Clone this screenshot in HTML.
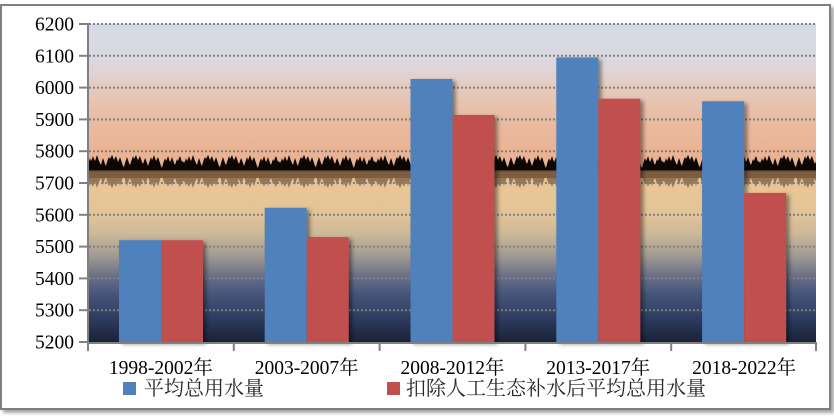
<!DOCTYPE html>
<html><head><meta charset="utf-8"><style>
html,body{margin:0;padding:0;background:#fff;}
body{width:834px;height:416px;overflow:hidden;position:relative;}
.frame{position:absolute;left:0;top:4px;width:827px;height:402px;border:2px solid #808080;box-shadow:3px 3px 3px rgba(0,0,0,0.35);background:#fff;}
svg{position:absolute;left:0;top:0;}
</style></head><body>
<div class="frame"></div>
<svg width="834" height="416" viewBox="0 0 834 416" xmlns="http://www.w3.org/2000/svg">
<defs>
<linearGradient id="bg" x1="0" y1="24" x2="0" y2="342" gradientUnits="userSpaceOnUse">
<stop offset="0" stop-color="#d6dae4"/>
<stop offset="0.097" stop-color="#dad9e2"/>
<stop offset="0.15" stop-color="#e0d4d6"/>
<stop offset="0.20" stop-color="#e5cabd"/>
<stop offset="0.30" stop-color="#e9bca2"/>
<stop offset="0.40" stop-color="#ebb393"/>
<stop offset="0.46" stop-color="#eab291"/>
<stop offset="0.47" stop-color="#e6bf8e"/>
<stop offset="0.52" stop-color="#e8c696"/>
<stop offset="0.60" stop-color="#e2c497"/>
<stop offset="0.66" stop-color="#cdb898"/>
<stop offset="0.73" stop-color="#a09a92"/>
<stop offset="0.79" stop-color="#6c7188"/>
<stop offset="0.85" stop-color="#45557a"/>
<stop offset="0.93" stop-color="#2c3a5c"/>
<stop offset="1" stop-color="#1a2238"/>
</linearGradient>
<pattern id="trees" x="88" y="154" width="96" height="17" patternUnits="userSpaceOnUse">
<path d="M0,17 L0,9 L1,7 L2,4 L3,7 L4,5 L5,2 L6,5 L7,7 L8,4 L9,1 L10,4 L11,7 L12,9 L13,11 L14,7 L15,4 L16,7 L17,10 L18,12 L19,8 L20,5 L21,3 L22,5 L23,3 L24,1 L25,3 L26,6 L27,4 L28,2 L29,5 L30,8 L31,6 L32,3 L33,6 L34,9 L35,12 L36,13 L37,9 L38,6 L39,3 L40,6 L41,9 L42,11 L43,8 L44,5 L45,2 L46,5 L47,3 L48,1 L49,4 L50,6 L51,4 L52,2 L53,5 L54,8 L55,10 L56,7 L57,4 L58,6 L59,9 L60,12 L61,9 L62,6 L63,3 L64,6 L65,4 L66,1 L67,4 L68,7 L69,5 L70,3 L71,6 L72,9 L73,12 L74,14 L75,10 L76,7 L77,4 L78,7 L79,5 L80,2 L81,5 L82,8 L83,6 L84,3 L85,6 L86,9 L87,11 L88,8 L89,5 L90,7 L91,4 L92,2 L93,5 L94,8 L95,7 L96,9 L96,17 Z" fill="#0a0705"/>
</pattern>
<pattern id="refl" x="88" y="171" width="96" height="18" patternUnits="userSpaceOnUse">
<path d="M0,0 L0,10 L1,12 L2,15 L3,12 L4,14 L5,16 L6,13 L7,11 L8,14 L9,17 L10,14 L11,11 L12,9 L13,7 L14,11 L15,14 L16,11 L17,8 L18,6 L19,10 L20,13 L21,15 L22,13 L23,15 L24,17 L25,15 L26,12 L27,14 L28,16 L29,13 L30,10 L31,12 L32,15 L33,12 L34,9 L35,6 L36,5 L37,9 L38,12 L39,15 L40,12 L41,9 L42,7 L43,10 L44,13 L45,16 L46,13 L47,15 L48,17 L49,14 L50,12 L51,14 L52,16 L53,13 L54,10 L55,8 L56,11 L57,14 L58,12 L59,9 L60,6 L61,9 L62,12 L63,15 L64,12 L65,14 L66,17 L67,14 L68,11 L69,13 L70,15 L71,12 L72,9 L73,6 L74,4 L75,8 L76,11 L77,14 L78,11 L79,13 L80,16 L81,13 L82,10 L83,12 L84,15 L85,12 L86,9 L87,7 L88,10 L89,13 L90,11 L91,14 L92,16 L93,13 L94,10 L95,11 L96,10 L96,0 Z" fill="#7a5a3e" fill-opacity="0.75"/>
</pattern>
<filter id="sh" x="-20%" y="-10%" width="150%" height="130%">
<feDropShadow dx="3" dy="2" stdDeviation="2" flood-color="#000" flood-opacity="0.45"/>
</filter>
</defs>
<!-- plot background -->
<rect x="89" y="24" width="727" height="318" fill="url(#bg)"/>
<rect x="89" y="154" width="727" height="17" fill="url(#trees)"/>
<rect x="89" y="170" width="727" height="2" fill="#4a3424"/>
<rect x="89" y="172" width="727" height="6" fill="#7e5e40" fill-opacity="0.9"/>
<rect x="89" y="171" width="727" height="18" fill="url(#refl)"/>
<!-- gridlines -->
<g stroke="#808080" stroke-width="2" stroke-dasharray="2,2">
<line x1="89" y1="24" x2="816" y2="24"/>
<line x1="89" y1="55.8" x2="816" y2="55.8"/>
<line x1="89" y1="87.6" x2="816" y2="87.6"/>
<line x1="89" y1="119.4" x2="816" y2="119.4"/>
<line x1="89" y1="151.2" x2="816" y2="151.2"/>
<line x1="89" y1="183" x2="816" y2="183"/>
<line x1="89" y1="214.8" x2="816" y2="214.8"/>
<line x1="89" y1="246.6" x2="816" y2="246.6"/>
<line x1="89" y1="278.4" x2="816" y2="278.4"/>
<line x1="89" y1="310.2" x2="816" y2="310.2"/>
</g>
<!-- bars -->
<g filter="url(#sh)">
<rect x="119" y="240.2" width="42" height="101.8" fill="#4f81bd"/>
<rect x="161" y="240.2" width="42" height="101.8" fill="#c0504d"/>
<rect x="264.7" y="207.8" width="42" height="134.2" fill="#4f81bd"/>
<rect x="306.7" y="237.1" width="42" height="104.9" fill="#c0504d"/>
<rect x="410.5" y="79" width="42" height="263" fill="#4f81bd"/>
<rect x="452.5" y="115" width="42" height="227" fill="#c0504d"/>
<rect x="556.3" y="57.4" width="42" height="284.6" fill="#4f81bd"/>
<rect x="598.3" y="98.7" width="42" height="243.3" fill="#c0504d"/>
<rect x="702.1" y="101.3" width="42" height="240.7" fill="#4f81bd"/>
<rect x="744.1" y="192.9" width="42" height="149.1" fill="#c0504d"/>
</g>
<!-- axes -->
<g stroke="#808080" stroke-width="2">
<line x1="88" y1="23" x2="88" y2="343"/>
<line x1="87" y1="343" x2="817" y2="343"/>
<line x1="79" y1="24" x2="88" y2="24"/>
<line x1="79" y1="55.8" x2="88" y2="55.8"/>
<line x1="79" y1="87.6" x2="88" y2="87.6"/>
<line x1="79" y1="119.4" x2="88" y2="119.4"/>
<line x1="79" y1="151.2" x2="88" y2="151.2"/>
<line x1="79" y1="183" x2="88" y2="183"/>
<line x1="79" y1="214.8" x2="88" y2="214.8"/>
<line x1="79" y1="246.6" x2="88" y2="246.6"/>
<line x1="79" y1="278.4" x2="88" y2="278.4"/>
<line x1="79" y1="310.2" x2="88" y2="310.2"/>
<line x1="79" y1="342" x2="88" y2="342"/>
<line x1="88" y1="343" x2="88" y2="351"/>
<line x1="233.8" y1="343" x2="233.8" y2="351"/>
<line x1="379.6" y1="343" x2="379.6" y2="351"/>
<line x1="525.4" y1="343" x2="525.4" y2="351"/>
<line x1="671.2" y1="343" x2="671.2" y2="351"/>
<line x1="816" y1="343" x2="816" y2="351"/>
</g>
<!-- y labels -->
<g font-family="'Liberation Serif', 'Noto Serif CJK SC', serif" font-size="19.5" fill="#000" text-anchor="end">
<text x="74" y="30.5">6200</text>
<text x="74" y="62.3">6100</text>
<text x="74" y="94.1">6000</text>
<text x="74" y="125.9">5900</text>
<text x="74" y="157.7">5800</text>
<text x="74" y="189.5">5700</text>
<text x="74" y="221.3">5600</text>
<text x="74" y="253.1">5500</text>
<text x="74" y="284.9">5400</text>
<text x="74" y="316.7">5300</text>
<text x="74" y="348.5">5200</text>
</g>
<!-- x labels -->
<g font-family="'Liberation Serif', 'Noto Serif CJK SC', serif" font-size="19.5" fill="#000" text-anchor="middle">
<text x="160.9" y="374">1998-2002年</text>
<text x="306.7" y="374">2003-2007年</text>
<text x="452.5" y="374">2008-2012年</text>
<text x="598.3" y="374">2013-2017年</text>
<text x="744.1" y="374">2018-2022年</text>
</g>
<!-- legend -->
<rect x="123" y="382" width="13" height="13" fill="#4f81bd"/>
<rect x="387" y="382" width="13" height="13" fill="#c0504d"/>
<g font-family="'Liberation Serif', 'Noto Serif CJK SC', serif" font-size="20" fill="#262626">
<text x="144" y="395">平均总用水量</text>
<text x="406" y="395">扣除人工生态补水后平均总用水量</text>
</g>
</svg>
</body></html>
